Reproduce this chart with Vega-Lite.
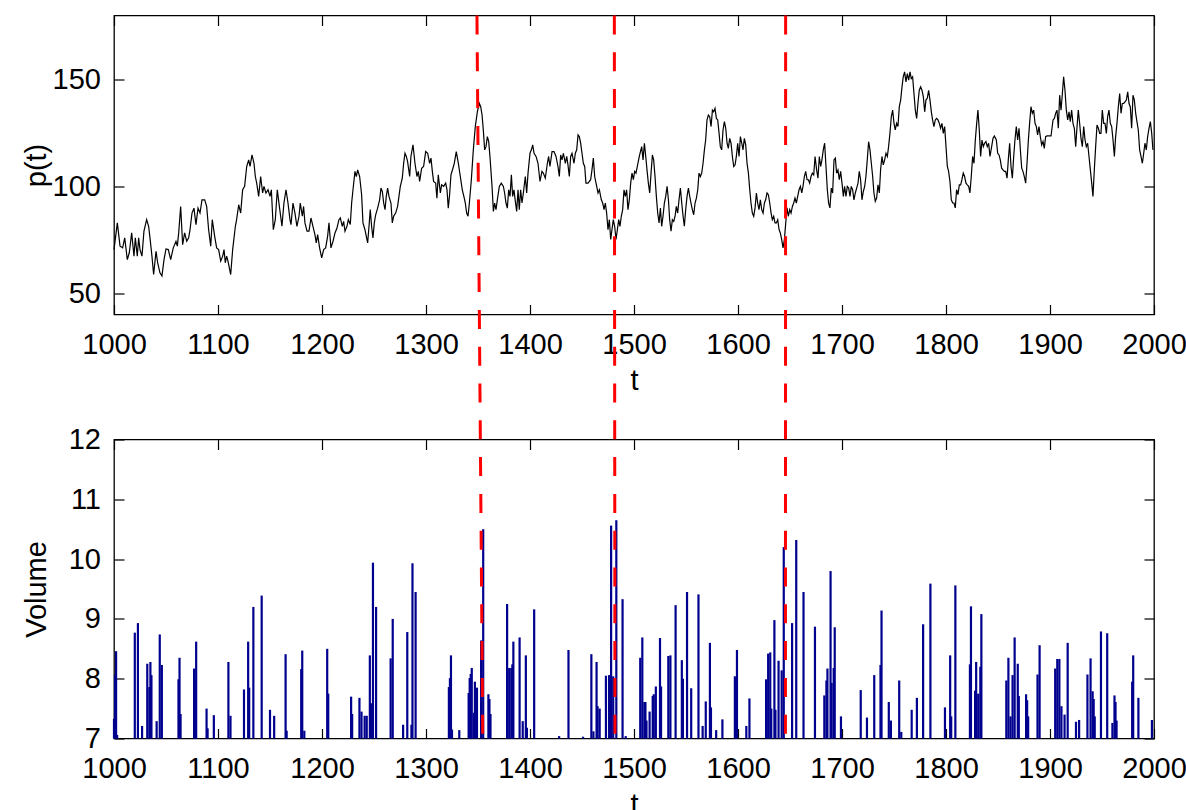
{
  "$schema": "https://vega.github.io/schema/vega-lite/v6.json",
  "background": "white",
  "padding": {"left": 21, "top": 12.5, "right": 0, "bottom": 0},
  "bounds": "flush",
  "spacing": 125,
  "config": {
    "font": "Liberation Sans",
    "view": {"stroke": "black", "strokeWidth": 1.3},
    "axis": {"domain": false, "grid": false, "tickSize": -10, "tickColor": "black", "tickWidth": 1.2, "labelFontSize": 29, "labelColor": "black", "titleFontSize": 29, "titleFontWeight": "normal", "titleColor": "black", "labelFont": "Liberation Sans", "titleFont": "Liberation Sans", "labelFlush": false, "labelOverlap": false, "format": "d"},
    "axisX": {"labelPadding": 48.7, "labelBaseline": "alphabetic", "titleY": 75, "titleBaseline": "alphabetic"},
    "axisY": {"labelPadding": 23.5, "titleX": -78, "titleBaseline": "middle"}
  },
  "datasets": {
    "price": [
      {"t":1000.0,"p":70.4},{"t":1003.2,"p":82.9},{"t":1005.8,"p":72.0},{"t":1008.3,"p":71.2},{"t":1010.3,"p":75.9},{"t":1012.8,"p":65.7},{"t":1014.7,"p":68.9},{"t":1017.0,"p":78.2},{"t":1019.2,"p":67.3},{"t":1020.5,"p":75.9},{"t":1022.4,"p":67.3},{"t":1023.7,"p":75.9},{"t":1025.0,"p":70.4},{"t":1026.9,"p":67.3},{"t":1028.8,"p":79.0},{"t":1031.4,"p":84.4},{"t":1033.3,"p":81.3},{"t":1034.6,"p":75.9},{"t":1036.5,"p":67.3},{"t":1038.1,"p":58.7},{"t":1040.4,"p":69.6},{"t":1042.0,"p":64.2},{"t":1044.2,"p":59.5},{"t":1046.1,"p":58.0},{"t":1048.1,"p":65.7},{"t":1050.0,"p":70.7},{"t":1052.2,"p":70.4},{"t":1054.5,"p":65.7},{"t":1057.0,"p":71.2},{"t":1059.6,"p":74.3},{"t":1060.9,"p":72.0},{"t":1062.2,"p":78.2},{"t":1064.1,"p":90.6},{"t":1066.0,"p":72.7},{"t":1067.9,"p":78.2},{"t":1069.9,"p":74.3},{"t":1071.8,"p":75.9},{"t":1073.1,"p":79.7},{"t":1075.0,"p":87.5},{"t":1076.9,"p":89.8},{"t":1078.8,"p":82.1},{"t":1080.8,"p":89.8},{"t":1082.7,"p":87.5},{"t":1084.6,"p":93.7},{"t":1087.2,"p":93.7},{"t":1089.1,"p":90.6},{"t":1091.0,"p":79.7},{"t":1093.0,"p":72.0},{"t":1094.5,"p":84.4},{"t":1096.8,"p":76.6},{"t":1098.7,"p":71.2},{"t":1100.6,"p":70.4},{"t":1102.6,"p":65.0},{"t":1104.5,"p":67.3},{"t":1105.8,"p":70.4},{"t":1107.0,"p":64.2},{"t":1108.3,"p":67.3},{"t":1109.6,"p":65.0},{"t":1112.2,"p":58.7},{"t":1114.1,"p":70.4},{"t":1116.7,"p":81.3},{"t":1117.9,"p":84.4},{"t":1119.9,"p":91.4},{"t":1121.8,"p":87.5},{"t":1123.7,"p":98.4},{"t":1125.6,"p":100.0},{"t":1127.6,"p":109.3},{"t":1129.5,"p":112.4},{"t":1130.8,"p":109.3},{"t":1132.7,"p":114.7},{"t":1134.6,"p":110.8},{"t":1135.9,"p":104.6},{"t":1137.2,"p":101.5},{"t":1139.1,"p":95.3},{"t":1141.0,"p":104.6},{"t":1142.9,"p":96.9},{"t":1144.2,"p":100.0},{"t":1146.1,"p":96.9},{"t":1148.1,"p":98.4},{"t":1150.0,"p":95.3},{"t":1151.3,"p":98.4},{"t":1153.2,"p":79.7},{"t":1155.1,"p":84.4},{"t":1157.0,"p":98.4},{"t":1159.0,"p":90.6},{"t":1161.5,"p":81.3},{"t":1163.4,"p":92.2},{"t":1165.4,"p":98.4},{"t":1167.3,"p":92.2},{"t":1169.2,"p":84.4},
      {"t":1170.2,"p":82.1},{"t":1172.1,"p":92.2},{"t":1174.0,"p":87.5},{"t":1175.9,"p":81.3},{"t":1177.9,"p":86.0},{"t":1179.1,"p":92.2},{"t":1181.1,"p":86.0},{"t":1182.3,"p":90.6},{"t":1183.6,"p":82.9},{"t":1185.6,"p":79.0},{"t":1187.5,"p":79.0},{"t":1189.4,"p":85.2},{"t":1191.3,"p":81.3},{"t":1193.2,"p":77.4},{"t":1194.5,"p":73.5},{"t":1195.8,"p":77.4},{"t":1197.7,"p":71.2},{"t":1199.7,"p":66.5},{"t":1201.6,"p":70.4},{"t":1203.5,"p":71.2},{"t":1205.4,"p":76.6},{"t":1206.7,"p":82.9},{"t":1208.6,"p":71.2},{"t":1210.6,"p":74.3},{"t":1212.5,"p":78.2},{"t":1214.4,"p":80.5},{"t":1216.3,"p":84.4},{"t":1217.6,"p":85.2},{"t":1219.5,"p":81.3},{"t":1220.8,"p":83.6},{"t":1222.1,"p":79.0},{"t":1224.0,"p":81.3},{"t":1225.3,"p":84.4},{"t":1227.2,"p":82.1},{"t":1228.5,"p":92.2},{"t":1229.8,"p":98.4},{"t":1231.7,"p":107.0},{"t":1233.0,"p":104.6},{"t":1234.3,"p":107.7},{"t":1236.2,"p":104.6},{"t":1238.1,"p":96.1},{"t":1239.4,"p":82.9},{"t":1241.3,"p":79.7},{"t":1242.6,"p":76.6},{"t":1243.9,"p":73.5},{"t":1245.2,"p":81.3},{"t":1246.4,"p":89.1},{"t":1247.7,"p":81.3},{"t":1249.0,"p":75.9},{"t":1250.3,"p":82.9},{"t":1251.6,"p":86.7},{"t":1253.5,"p":89.8},{"t":1255.4,"p":93.7},{"t":1256.7,"p":99.2},{"t":1258.0,"p":97.6},{"t":1259.3,"p":92.2},{"t":1260.6,"p":89.1},{"t":1261.8,"p":95.3},{"t":1263.1,"p":99.2},{"t":1264.4,"p":95.3},{"t":1266.3,"p":92.2},{"t":1267.6,"p":82.9},{"t":1268.9,"p":86.0},{"t":1270.8,"p":87.5},{"t":1272.7,"p":90.6},{"t":1274.0,"p":95.3},{"t":1275.3,"p":100.0},{"t":1277.2,"p":103.8},{"t":1278.5,"p":110.8},{"t":1279.8,"p":115.5},{"t":1281.1,"p":114.0},{"t":1282.3,"p":111.6},{"t":1284.3,"p":104.6},{"t":1285.5,"p":114.0},{"t":1287.5,"p":119.4},{"t":1289.4,"p":110.8},{"t":1291.3,"p":104.6},{"t":1292.6,"p":107.0},{"t":1293.9,"p":102.3},{"t":1295.8,"p":108.5},{"t":1297.7,"p":109.3},{"t":1299.7,"p":116.3},{"t":1301.6,"p":115.5},{"t":1303.5,"p":110.8},{"t":1304.8,"p":113.2},{"t":1306.1,"p":107.0},{"t":1307.3,"p":102.3},{"t":1309.3,"p":101.5},{"t":1310.5,"p":94.5},{"t":1311.8,"p":105.4},{"t":1313.8,"p":96.9},{"t":1315.0,"p":100.7},{"t":1317.0,"p":100.0},{"t":1318.9,"p":101.5},{"t":1320.2,"p":98.4},{"t":1321.4,"p":89.8},{"t":1322.7,"p":96.1},{"t":1324.0,"p":105.4},{"t":1325.9,"p":108.5},{"t":1327.2,"p":110.8},{"t":1329.1,"p":116.3},{"t":1331.1,"p":110.8},{"t":1333.0,"p":104.6},{"t":1334.9,"p":98.4},{"t":1336.8,"p":94.5},
      {"t":1337.8,"p":92.2},{"t":1339.1,"p":87.5},{"t":1340.4,"p":86.0},{"t":1341.7,"p":92.2},{"t":1343.6,"p":103.1},{"t":1345.5,"p":117.1},{"t":1347.4,"p":128.0},{"t":1349.4,"p":135.0},{"t":1351.3,"p":138.8},{"t":1352.6,"p":137.3},{"t":1353.9,"p":133.4},{"t":1355.1,"p":126.4},{"t":1356.4,"p":117.1},{"t":1357.7,"p":118.6},{"t":1359.0,"p":123.3},{"t":1360.3,"p":120.9},{"t":1361.5,"p":114.0},{"t":1363.5,"p":100.0},{"t":1364.8,"p":88.3},{"t":1366.0,"p":92.2},{"t":1367.3,"p":89.1},{"t":1368.6,"p":93.7},{"t":1370.5,"p":100.0},{"t":1372.4,"p":101.5},{"t":1374.4,"p":100.0},{"t":1375.6,"p":96.9},{"t":1376.9,"p":92.2},{"t":1378.2,"p":89.8},{"t":1379.5,"p":98.4},{"t":1380.8,"p":95.3},{"t":1382.1,"p":105.4},{"t":1383.3,"p":95.3},{"t":1384.6,"p":98.4},{"t":1385.9,"p":93.0},{"t":1387.2,"p":88.3},{"t":1388.5,"p":98.4},{"t":1389.7,"p":89.1},{"t":1391.0,"p":98.4},{"t":1392.3,"p":92.2},{"t":1393.6,"p":96.9},{"t":1395.5,"p":104.6},{"t":1396.8,"p":96.9},{"t":1398.1,"p":106.2},{"t":1400.0,"p":115.5},{"t":1401.3,"p":117.1},{"t":1402.6,"p":119.4},{"t":1403.9,"p":115.5},{"t":1405.8,"p":114.0},{"t":1407.7,"p":110.8},{"t":1409.6,"p":102.3},{"t":1411.5,"p":107.0},{"t":1412.8,"p":106.2},{"t":1414.7,"p":103.8},{"t":1416.7,"p":110.8},{"t":1417.9,"p":114.0},{"t":1419.2,"p":109.3},{"t":1421.2,"p":116.3},{"t":1423.1,"p":116.3},{"t":1425.0,"p":114.0},{"t":1426.9,"p":109.3},{"t":1428.2,"p":104.6},{"t":1429.5,"p":114.7},{"t":1430.8,"p":112.4},{"t":1432.1,"p":115.5},{"t":1434.0,"p":110.8},{"t":1435.3,"p":114.0},{"t":1436.5,"p":110.1},{"t":1437.8,"p":104.6},{"t":1439.1,"p":114.0},{"t":1440.4,"p":115.5},{"t":1442.3,"p":110.8},{"t":1443.6,"p":115.5},{"t":1444.9,"p":117.1},{"t":1446.2,"p":124.1},{"t":1447.4,"p":123.3},{"t":1448.7,"p":120.2},{"t":1450.0,"p":115.5},{"t":1451.3,"p":110.8},{"t":1452.6,"p":109.3},{"t":1453.8,"p":101.5},{"t":1455.8,"p":101.5},{"t":1458.3,"p":103.1},{"t":1459.6,"p":107.7},{"t":1460.9,"p":113.2},{"t":1462.2,"p":104.6},{"t":1463.5,"p":101.5},{"t":1465.4,"p":96.9},{"t":1466.7,"p":98.4},{"t":1468.6,"p":93.7},{"t":1469.9,"p":92.2},{"t":1471.2,"p":89.1},{"t":1472.4,"p":92.2},{"t":1473.7,"p":87.5},{"t":1475.0,"p":79.7},{"t":1476.3,"p":84.4},{"t":1477.6,"p":75.1},{"t":1478.8,"p":79.7},{"t":1480.1,"p":84.4},{"t":1481.4,"p":81.3},{"t":1482.7,"p":75.1},{"t":1484.0,"p":79.7},{"t":1485.3,"p":84.4},{"t":1486.5,"p":81.3},{"t":1487.8,"p":86.0},{"t":1489.1,"p":89.1},{"t":1490.4,"p":98.4},{"t":1491.7,"p":95.3},{"t":1492.9,"p":98.4},{"t":1494.2,"p":89.1},{"t":1495.5,"p":93.7},{"t":1496.8,"p":101.5},{"t":1498.1,"p":106.2},{"t":1499.4,"p":103.1},{"t":1500.6,"p":107.0},{"t":1501.9,"p":106.2},{"t":1503.2,"p":109.3},{"t":1505.1,"p":114.0},
      {"t":1507.4,"p":118.6},{"t":1508.7,"p":112.4},{"t":1510.0,"p":120.2},{"t":1511.3,"p":114.0},{"t":1512.5,"p":107.7},{"t":1513.8,"p":101.5},{"t":1515.1,"p":96.9},{"t":1516.4,"p":106.2},{"t":1517.7,"p":114.7},{"t":1518.9,"p":112.4},{"t":1520.2,"p":104.6},{"t":1521.5,"p":95.3},{"t":1522.8,"p":87.5},{"t":1524.1,"p":82.9},{"t":1525.4,"p":89.8},{"t":1526.6,"p":81.3},{"t":1527.9,"p":86.0},{"t":1529.2,"p":92.2},{"t":1530.5,"p":95.3},{"t":1531.8,"p":100.0},{"t":1533.1,"p":93.7},{"t":1534.3,"p":84.4},{"t":1535.6,"p":79.0},{"t":1536.9,"p":84.4},{"t":1538.2,"p":83.6},{"t":1539.5,"p":86.0},{"t":1540.7,"p":90.6},{"t":1542.0,"p":87.5},{"t":1543.3,"p":93.7},{"t":1544.6,"p":99.2},{"t":1545.9,"p":92.2},{"t":1547.2,"p":86.0},{"t":1548.4,"p":81.3},{"t":1549.7,"p":89.1},{"t":1551.0,"p":95.3},{"t":1552.3,"p":99.2},{"t":1553.6,"p":95.3},{"t":1554.8,"p":92.2},{"t":1556.1,"p":89.1},{"t":1557.4,"p":86.7},{"t":1558.7,"p":92.2},{"t":1560.0,"p":94.5},{"t":1561.3,"p":98.4},{"t":1562.5,"p":106.2},{"t":1563.8,"p":104.6},{"t":1565.1,"p":106.2},{"t":1566.4,"p":110.8},{"t":1567.7,"p":117.1},{"t":1568.9,"p":121.7},{"t":1570.2,"p":131.1},{"t":1571.5,"p":133.4},{"t":1572.8,"p":132.6},{"t":1574.1,"p":128.0},{"t":1575.4,"p":135.7},{"t":1576.6,"p":134.9},{"t":1577.9,"p":136.5},{"t":1579.2,"p":131.8},{"t":1580.5,"p":131.1},{"t":1581.8,"p":124.8},{"t":1583.0,"p":118.6},{"t":1584.3,"p":117.1},{"t":1585.6,"p":126.4},{"t":1586.9,"p":130.3},{"t":1588.2,"p":127.2},{"t":1589.5,"p":120.2},{"t":1590.7,"p":117.8},{"t":1592.0,"p":122.5},{"t":1593.3,"p":120.2},{"t":1594.6,"p":114.0},{"t":1595.9,"p":109.3},{"t":1597.2,"p":110.1},{"t":1598.4,"p":114.0},{"t":1599.7,"p":120.2},{"t":1601.0,"p":114.0},{"t":1602.3,"p":123.3},{"t":1603.6,"p":120.2},{"t":1604.8,"p":117.1},{"t":1606.1,"p":122.5},{"t":1607.4,"p":119.4},{"t":1608.7,"p":110.8},{"t":1610.0,"p":106.2},{"t":1611.3,"p":98.4},{"t":1612.5,"p":92.2},{"t":1613.8,"p":87.5},{"t":1615.1,"p":86.0},{"t":1616.4,"p":89.9},{"t":1617.7,"p":96.9},{"t":1618.9,"p":92.2},{"t":1620.2,"p":89.1},{"t":1621.5,"p":93.7},{"t":1622.8,"p":89.1},{"t":1624.1,"p":87.5},{"t":1625.4,"p":92.2},{"t":1626.6,"p":93.7},{"t":1627.9,"p":96.9},{"t":1629.2,"p":96.1},{"t":1630.5,"p":92.2},{"t":1631.8,"p":87.5},{"t":1633.0,"p":84.4},{"t":1634.3,"p":86.0},{"t":1635.6,"p":82.9},{"t":1636.9,"p":82.9},{"t":1638.2,"p":84.4},{"t":1639.5,"p":79.7},{"t":1640.7,"p":78.2},{"t":1642.0,"p":75.1},{"t":1643.3,"p":71.2},{"t":1644.6,"p":75.1},{"t":1645.9,"p":82.9},{"t":1647.1,"p":89.9},{"t":1648.4,"p":86.0},{"t":1649.7,"p":89.1},{"t":1651.0,"p":87.5},{"t":1652.3,"p":90.6},{"t":1653.6,"p":92.2},{"t":1654.8,"p":94.5},{"t":1656.1,"p":92.2},{"t":1657.4,"p":95.3},{"t":1658.7,"p":98.4},{"t":1660.0,"p":100.0},{"t":1661.3,"p":96.9},{"t":1662.5,"p":100.0},{"t":1663.8,"p":104.6},{"t":1665.1,"p":107.0},{"t":1666.4,"p":103.1},{"t":1667.7,"p":103.1},{"t":1668.9,"p":101.5},{"t":1670.2,"p":104.6},{"t":1671.5,"p":106.2},{"t":1672.8,"p":105.4},{"t":1674.1,"p":114.0},
      {"t":1675.6,"p":107.7},{"t":1676.9,"p":103.8},{"t":1678.2,"p":114.0},{"t":1679.5,"p":109.3},{"t":1680.7,"p":112.4},{"t":1682.0,"p":117.1},{"t":1683.3,"p":120.2},{"t":1684.6,"p":109.3},{"t":1685.9,"p":98.4},{"t":1687.1,"p":92.2},{"t":1688.4,"p":89.9},{"t":1689.7,"p":99.2},{"t":1691.0,"p":96.9},{"t":1692.3,"p":112.4},{"t":1693.6,"p":113.2},{"t":1694.8,"p":106.2},{"t":1696.1,"p":107.7},{"t":1697.4,"p":103.1},{"t":1698.7,"p":107.0},{"t":1700.0,"p":101.5},{"t":1701.3,"p":95.3},{"t":1702.5,"p":100.0},{"t":1703.8,"p":95.3},{"t":1705.1,"p":100.0},{"t":1706.4,"p":99.2},{"t":1707.7,"p":95.3},{"t":1708.9,"p":100.0},{"t":1710.2,"p":98.4},{"t":1711.5,"p":93.7},{"t":1712.8,"p":96.9},{"t":1714.1,"p":99.2},{"t":1715.4,"p":101.5},{"t":1716.6,"p":107.0},{"t":1717.9,"p":103.1},{"t":1719.2,"p":93.7},{"t":1720.5,"p":97.6},{"t":1721.8,"p":100.0},{"t":1723.0,"p":104.6},{"t":1724.3,"p":112.4},{"t":1725.6,"p":120.9},{"t":1726.9,"p":117.1},{"t":1728.2,"p":110.8},{"t":1729.5,"p":104.6},{"t":1730.7,"p":96.9},{"t":1732.0,"p":93.0},{"t":1733.3,"p":94.5},{"t":1734.6,"p":100.7},{"t":1735.9,"p":96.9},{"t":1737.1,"p":107.7},{"t":1738.4,"p":114.0},{"t":1739.7,"p":110.1},{"t":1741.0,"p":112.4},{"t":1742.3,"p":115.5},{"t":1743.6,"p":114.0},{"t":1744.8,"p":118.6},{"t":1746.1,"p":124.8},{"t":1747.4,"p":132.6},{"t":1748.7,"p":135.7},{"t":1750.0,"p":129.5},{"t":1751.2,"p":126.4},{"t":1752.5,"p":129.5},{"t":1753.8,"p":128.0},{"t":1755.1,"p":137.3},{"t":1756.4,"p":140.4},{"t":1757.7,"p":146.6},{"t":1758.9,"p":151.3},{"t":1760.2,"p":153.6},{"t":1761.5,"p":148.9},{"t":1762.8,"p":152.8},{"t":1764.1,"p":149.7},{"t":1765.4,"p":153.6},{"t":1766.6,"p":150.5},{"t":1767.9,"p":151.3},{"t":1769.2,"p":143.5},{"t":1770.5,"p":135.7},{"t":1771.8,"p":131.8},{"t":1773.0,"p":138.8},{"t":1774.3,"p":145.0},{"t":1775.6,"p":146.6},{"t":1776.9,"p":145.0},{"t":1778.2,"p":142.0},{"t":1779.5,"p":134.9},{"t":1780.7,"p":140.4},{"t":1782.0,"p":141.2},{"t":1783.3,"p":145.0},{"t":1784.6,"p":140.4},{"t":1785.9,"p":134.9},{"t":1787.1,"p":131.1},{"t":1788.4,"p":128.0},{"t":1789.7,"p":131.1},{"t":1791.0,"p":131.8},{"t":1792.3,"p":131.1},{"t":1793.6,"p":129.5},{"t":1794.8,"p":127.2},{"t":1796.1,"p":129.5},{"t":1797.4,"p":124.8},{"t":1798.7,"p":128.0},{"t":1800.0,"p":118.6},{"t":1801.3,"p":109.3},{"t":1802.5,"p":107.0},{"t":1803.8,"p":102.3},{"t":1805.1,"p":93.7},{"t":1806.4,"p":92.2},{"t":1807.7,"p":92.2},{"t":1808.9,"p":89.9},{"t":1810.2,"p":98.4},{"t":1811.5,"p":96.1},{"t":1812.8,"p":100.7},{"t":1814.1,"p":100.7},{"t":1815.3,"p":103.1},{"t":1816.6,"p":106.2},{"t":1817.9,"p":104.6},{"t":1819.2,"p":101.5},{"t":1820.5,"p":100.7},{"t":1821.8,"p":100.0},{"t":1823.0,"p":96.9},{"t":1824.3,"p":104.6},{"t":1825.6,"p":114.0},{"t":1826.9,"p":110.8},{"t":1828.2,"p":121.7},{"t":1829.5,"p":129.5},{"t":1830.7,"p":135.7},{"t":1832.0,"p":126.4},{"t":1833.3,"p":114.0},{"t":1834.6,"p":121.7},{"t":1835.9,"p":118.6},{"t":1837.1,"p":120.2},{"t":1838.4,"p":121.0},{"t":1839.7,"p":118.6},{"t":1841.0,"p":120.2},{"t":1842.3,"p":114.0},
      {"t":1843.9,"p":118.6},{"t":1845.2,"p":122.5},{"t":1846.5,"p":123.6},{"t":1848.4,"p":121.7},{"t":1849.7,"p":115.5},{"t":1851.0,"p":114.7},{"t":1852.2,"p":112.4},{"t":1853.5,"p":108.5},{"t":1854.8,"p":107.7},{"t":1856.1,"p":107.0},{"t":1857.4,"p":107.0},{"t":1858.7,"p":103.8},{"t":1859.9,"p":112.4},{"t":1861.2,"p":120.2},{"t":1862.5,"p":109.3},{"t":1863.8,"p":103.8},{"t":1865.1,"p":114.0},{"t":1866.3,"p":121.7},{"t":1867.6,"p":128.0},{"t":1868.9,"p":121.7},{"t":1870.2,"p":127.2},{"t":1871.5,"p":117.1},{"t":1872.8,"p":108.5},{"t":1874.0,"p":107.0},{"t":1875.3,"p":104.6},{"t":1876.6,"p":101.5},{"t":1877.9,"p":110.8},{"t":1879.2,"p":121.7},{"t":1880.4,"p":129.5},{"t":1881.7,"p":137.3},{"t":1883.0,"p":134.2},{"t":1884.3,"p":135.7},{"t":1885.6,"p":129.5},{"t":1886.9,"p":128.0},{"t":1888.1,"p":124.1},{"t":1889.4,"p":128.0},{"t":1890.7,"p":123.3},{"t":1892.0,"p":119.4},{"t":1893.3,"p":121.0},{"t":1894.5,"p":117.8},{"t":1895.8,"p":123.3},{"t":1897.1,"p":123.6},{"t":1899.0,"p":123.6},{"t":1901.0,"p":123.6},{"t":1902.9,"p":131.1},{"t":1904.2,"p":131.8},{"t":1905.4,"p":134.2},{"t":1906.7,"p":135.7},{"t":1908.0,"p":127.2},{"t":1909.3,"p":142.7},{"t":1910.6,"p":135.7},{"t":1911.9,"p":143.5},{"t":1913.1,"p":151.3},{"t":1914.4,"p":145.0},{"t":1915.7,"p":135.7},{"t":1917.0,"p":131.1},{"t":1918.3,"p":134.9},{"t":1919.5,"p":130.3},{"t":1920.8,"p":135.7},{"t":1922.1,"p":129.5},{"t":1923.4,"p":127.2},{"t":1924.7,"p":118.6},{"t":1926.0,"p":128.0},{"t":1927.2,"p":135.7},{"t":1928.5,"p":129.5},{"t":1929.8,"p":122.5},{"t":1931.1,"p":118.6},{"t":1932.4,"p":128.0},{"t":1933.7,"p":121.7},{"t":1934.9,"p":118.6},{"t":1936.2,"p":120.2},{"t":1937.5,"p":114.0},{"t":1938.8,"p":107.7},{"t":1940.1,"p":101.5},{"t":1941.3,"p":95.3},{"t":1942.6,"p":107.7},{"t":1943.9,"p":118.6},{"t":1945.2,"p":128.7},{"t":1946.5,"p":127.2},{"t":1947.8,"p":124.8},{"t":1949.0,"p":124.8},{"t":1950.3,"p":135.7},{"t":1951.6,"p":129.5},{"t":1952.9,"p":129.5},{"t":1954.2,"p":124.8},{"t":1955.4,"p":132.6},{"t":1956.7,"p":135.7},{"t":1958.0,"p":129.5},{"t":1959.3,"p":128.0},{"t":1960.6,"p":121.7},{"t":1961.9,"p":114.0},{"t":1963.1,"p":123.3},{"t":1964.4,"p":129.5},{"t":1965.7,"p":137.3},{"t":1967.0,"p":143.5},{"t":1968.3,"p":134.2},{"t":1969.5,"p":138.8},{"t":1970.8,"p":138.8},{"t":1972.1,"p":139.6},{"t":1973.4,"p":140.4},{"t":1974.7,"p":144.3},{"t":1976.0,"p":138.8},{"t":1977.2,"p":137.3},{"t":1978.5,"p":127.2},{"t":1979.8,"p":142.7},{"t":1981.1,"p":140.4},{"t":1982.4,"p":134.2},{"t":1983.6,"p":130.3},{"t":1984.9,"p":126.4},{"t":1986.2,"p":117.1},{"t":1987.5,"p":114.0},{"t":1988.8,"p":110.8},{"t":1990.1,"p":115.5},{"t":1991.3,"p":120.2},{"t":1992.6,"p":117.1},{"t":1993.9,"p":123.3},{"t":1995.2,"p":127.2},{"t":1996.5,"p":130.3},{"t":1997.8,"p":124.8},{"t":1999.0,"p":117.1}
    ],
    "volume": [
      {"t":1000,"v":7.33},{"t":1001,"v":8.06},{"t":1002,"v":8.46},{"t":1003,"v":7.06},{"t":1020,"v":8.77},{"t":1023,"v":8.93},{"t":1027,"v":7.21},{"t":1032,"v":8.25},{"t":1034,"v":7.86},{"t":1035,"v":8.28},{"t":1036,"v":8.06},{"t":1041,"v":7.29},{"t":1044,"v":8.74},{"t":1046,"v":8.23},{"t":1062,"v":7.99},{"t":1063,"v":8.35},{"t":1064,"v":7.41},{"t":1077,"v":8.17},{"t":1078,"v":7.97},{"t":1079,"v":8.62},{"t":1089,"v":7.5},{"t":1090,"v":7.17},{"t":1096,"v":7.39},{"t":1110,"v":8.28},{"t":1112,"v":7.38},{"t":1125,"v":7.82},{"t":1129,"v":8.62},{"t":1130,"v":7.85},{"t":1134,"v":9.2},{"t":1142,"v":9.39},{"t":1150,"v":7.48},{"t":1154,"v":7.38},{"t":1165,"v":8.41},{"t":1166,"v":7.13},{"t":1180,"v":8.16},{"t":1181,"v":8.47},{"t":1183,"v":7.13},{"t":1205,"v":8.5},{"t":1206,"v":7.75},{"t":1228,"v":7.7},{"t":1229,"v":7.41},{"t":1236,"v":7.68},{"t":1238,"v":7.45},{"t":1241,"v":7.38},{"t":1243,"v":7.38},{"t":1246,"v":8.39},{"t":1247,"v":7.59},{"t":1249,"v":9.94},{"t":1252,"v":9.2},{"t":1266,"v":8.34},{"t":1268,"v":9.0},{"t":1278,"v":7.23},{"t":1282,"v":8.78},{"t":1286,"v":7.23},{"t":1287,"v":9.93},{"t":1290,"v":9.45},{"t":1322,"v":7.86},{"t":1323,"v":8.01},{"t":1324,"v":8.39},{"t":1325,"v":7.15},{"t":1332,"v":7.14},{"t":1341,"v":7.76},{"t":1342,"v":8.01},{"t":1343,"v":8.08},{"t":1344,"v":8.18},{"t":1346,"v":7.43},{"t":1347,"v":7.95},{"t":1349,"v":7.85},{"t":1353,"v":8.64},{"t":1355,"v":10.5},{"t":1360,"v":7.74},{"t":1361,"v":7.66},{"t":1362,"v":7.41},{"t":1378,"v":9.25},{"t":1380,"v":8.18},{"t":1382,"v":8.18},{"t":1383,"v":8.24},{"t":1384,"v":8.62},{"t":1390,"v":8.69},{"t":1393,"v":7.29},{"t":1396,"v":8.39},{"t":1397,"v":7.18},{"t":1404,"v":9.16},{"t":1428,"v":7.04},{"t":1437,"v":8.48},{"t":1451,"v":7.03},{"t":1459,"v":8.41},{"t":1461,"v":7.12},{"t":1464,"v":8.28},{"t":1465,"v":7.54},{"t":1467,"v":7.5},{"t":1473,"v":8.05},{"t":1476,"v":8.06},{"t":1478,"v":10.56},{"t":1480,"v":8.04},{"t":1483,"v":10.65},{"t":1489,"v":9.33},{"t":1492,"v":7.04},{"t":1506,"v":8.35},{"t":1508,"v":8.69},{"t":1510,"v":7.61},{"t":1511,"v":7.61},{"t":1512,"v":7.3},{"t":1515,"v":7.45},{"t":1518,"v":7.71},{"t":1519,"v":7.74},{"t":1521,"v":7.87},{"t":1525,"v":8.68},{"t":1526,"v":7.87},{"t":1533,"v":8.38},{"t":1535,"v":8.39},{"t":1540,"v":9.23},{"t":1546,"v":8.31},{"t":1547,"v":8.0},{"t":1551,"v":9.45},{"t":1555,"v":7.84},{"t":1562,"v":9.41},{"t":1566,"v":7.21},{"t":1569,"v":7.62},{"t":1573,"v":8.6},{"t":1574,"v":7.52},{"t":1579,"v":7.14},{"t":1585,"v":7.32},{"t":1597,"v":8.04},{"t":1599,"v":8.48},{"t":1608,"v":7.21},{"t":1611,"v":7.67},{"t":1627,"v":7.99},{"t":1629,"v":8.42},{"t":1631,"v":8.44},{"t":1632,"v":7.5},{"t":1635,"v":8.98},{"t":1636,"v":7.48},{"t":1639,"v":8.3},{"t":1642,"v":8.14},{"t":1644,"v":10.2},{"t":1652,"v":8.93},{"t":1656,"v":10.32},{"t":1663,"v":9.45},{"t":1674,"v":8.87},{"t":1683,"v":7.72},{"t":1685,"v":7.97},{"t":1686,"v":8.17},{"t":1689,"v":9.8},{"t":1690,"v":7.93},{"t":1692,"v":8.18},{"t":1693,"v":8.86},{"t":1699,"v":7.37},{"t":1718,"v":7.81},{"t":1724,"v":7.35},{"t":1731,"v":8.06},{"t":1737,"v":8.23},{"t":1738,"v":9.14},{"t":1745,"v":7.61},{"t":1747,"v":7.3},{"t":1755,"v":7.97},{"t":1757,"v":7.11},{"t":1767,"v":7.48},{"t":1772,"v":7.68},{"t":1778,"v":8.91},{"t":1785,"v":9.59},{"t":1799,"v":7.52},{"t":1804,"v":8.39},{"t":1805,"v":7.37},{"t":1809,"v":9.56},{"t":1823,"v":8.24},{"t":1824,"v":9.21},{"t":1828,"v":7.8},{"t":1829,"v":8.28},{"t":1831,"v":7.75},{"t":1833,"v":8.2},{"t":1834,"v":9.08},{"t":1858,"v":7.97},{"t":1860,"v":8.35},{"t":1862,"v":7.37},{"t":1864,"v":8.06},{"t":1866,"v":8.69},{"t":1869,"v":8.25},{"t":1870,"v":7.71},{"t":1877,"v":7.74},{"t":1878,"v":7.64},{"t":1879,"v":7.37},{"t":1888,"v":8.07},{"t":1890,"v":8.56},{"t":1905,"v":8.17},{"t":1907,"v":8.33},{"t":1909,"v":8.33},{"t":1911,"v":7.54},{"t":1914,"v":7.4},{"t":1917,"v":8.6},{"t":1925,"v":7.28},{"t":1928,"v":7.31},{"t":1936,"v":8.07},{"t":1939,"v":8.34},{"t":1941,"v":7.79},{"t":1942,"v":7.66},{"t":1943,"v":7.37},{"t":1949,"v":8.79},{"t":1955,"v":8.76},{"t":1960,"v":7.26},{"t":1962,"v":7.72},{"t":1963,"v":7.61},{"t":1964,"v":7.3},{"t":1979,"v":7.95},{"t":1980,"v":8.39},{"t":1985,"v":7.68},{"t":1998,"v":7.31}
    ],
    "events": [
      {"ta": 1349.0, "tb": 1354.6},
      {"ta": 1481.1, "tb": 1481.7},
      {"ta": 1645.8, "tb": 1645.6}
    ]
  },
  "vconcat": [
    {
      "width": 1040,
      "height": 299,
      "layer": [
        {
          "data": {"name": "price"},
          "mark": {"type": "line", "color": "black", "strokeWidth": 1.2},
          "encoding": {
            "x": {"field": "t", "type": "quantitative", "scale": {"domain": [1000, 2000], "nice": false, "zero": false}, "axis": {"orient": "bottom", "title": "t", "values": [1000, 1100, 1200, 1300, 1400, 1500, 1600, 1700, 1800, 1900, 2000]}},
            "y": {"field": "p", "type": "quantitative", "scale": {"domain": [40, 180], "nice": false, "zero": false}, "axis": {"orient": "left", "title": "p(t)", "values": [50, 100, 150]}}
          }
        },
        {
          "data": {"name": "price"},
          "mark": {"type": "line", "strokeOpacity": 0},
          "encoding": {
            "x": {"field": "t", "type": "quantitative", "scale": {"domain": [1000, 2000], "nice": false, "zero": false}, "axis": {"orient": "top", "title": null, "labels": false, "values": [1000, 1100, 1200, 1300, 1400, 1500, 1600, 1700, 1800, 1900, 2000]}},
            "y": {"field": "p", "type": "quantitative", "scale": {"domain": [40, 180], "nice": false, "zero": false}, "axis": {"orient": "right", "title": null, "labels": false, "values": [50, 100, 150]}}
          }
        }
      ],
      "resolve": {"axis": {"x": "independent", "y": "independent"}}
    },
    {
      "width": 1040,
      "height": 299,
      "layer": [
        {
          "data": {"name": "volume"},
          "mark": {"type": "rule", "color": "#00008f", "strokeWidth": 2.2},
          "encoding": {
            "x": {"field": "t", "type": "quantitative", "scale": {"domain": [1000, 2000], "nice": false, "zero": false}, "axis": {"orient": "bottom", "title": "t", "values": [1000, 1100, 1200, 1300, 1400, 1500, 1600, 1700, 1800, 1900, 2000]}},
            "y": {"field": "v", "type": "quantitative", "scale": {"domain": [7, 12], "nice": false, "zero": false}, "axis": {"orient": "left", "title": "Volume", "values": [7, 8, 9, 10, 11, 12]}},
            "y2": {"datum": 7}
          }
        },
        {
          "mark": {"type": "rule", "color": "black", "strokeWidth": 2.8, "strokeDash": [0.5, 13.5], "strokeCap": "round"},
          "encoding": {
            "y": {"datum": 9.95, "type": "quantitative", "scale": {"domain": [7, 12], "nice": false, "zero": false}, "axis": null}
          }
        },
        {
          "data": {"name": "events"},
          "mark": {"type": "rule", "color": "#ff0000", "strokeWidth": 3, "strokeDash": [19, 17.8]},
          "encoding": {
            "x": {"field": "ta", "type": "quantitative", "scale": {"domain": [1000, 2000], "nice": false, "zero": false}, "axis": {"orient": "top", "title": null, "labels": false, "values": [1000, 1100, 1200, 1300, 1400, 1500, 1600, 1700, 1800, 1900, 2000]}},
            "x2": {"field": "tb"},
            "y": {"datum": 19.09, "type": "quantitative", "scale": {"domain": [7, 12], "nice": false, "zero": false}, "axis": {"orient": "right", "title": null, "labels": false, "values": [7, 8, 9, 10, 11, 12]}},
            "y2": {"datum": 6.93}
          }
        }
      ],
      "resolve": {"axis": {"x": "independent", "y": "independent"}}
    }
  ]
}
